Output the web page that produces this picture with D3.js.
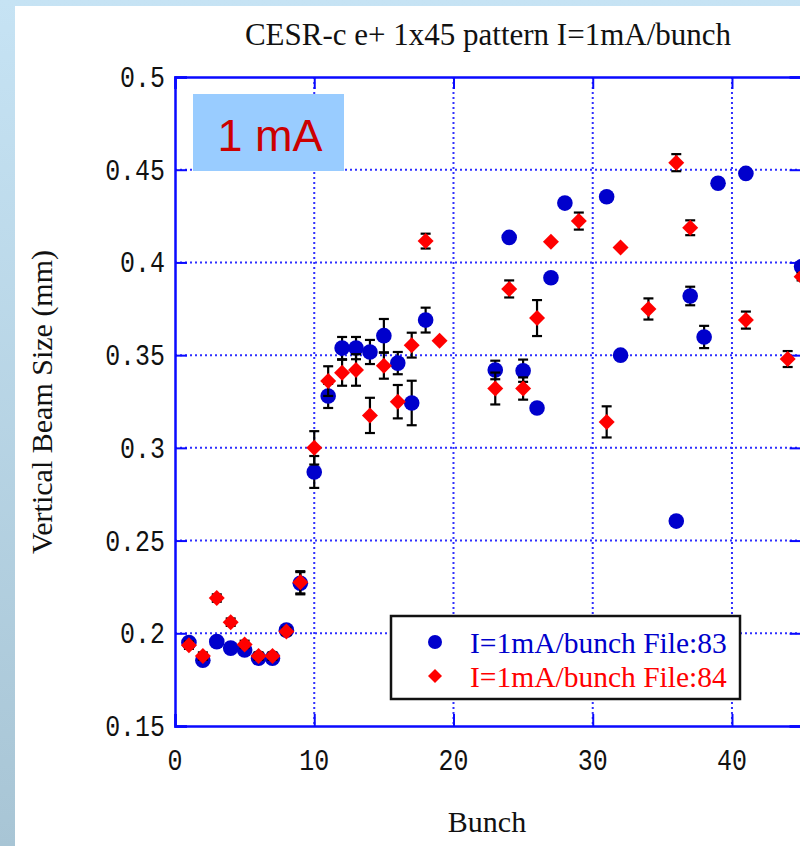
<!DOCTYPE html>
<html>
<head>
<meta charset="utf-8">
<script src="https://cdn.jsdelivr.net/npm/d3@7/dist/d3.min.js"></script>
<style>
  html, body { margin: 0; padding: 0; background: #ffffff; }
  svg { display: block; }
</style>
</head>
<body>
<div id="chart"></div>
<script>
// Bunch numbers and measured vertical beam sizes (mm), with error half-widths
const bunch83 = [1,2,3,4,5,6,7,8,9,10,11,12,13,14,15,16,17,18,23,24,25,26,27,28,31,32,36,37,38,39,41,45];
const size83  = [0.195,0.1855,0.1955,0.192,0.191,0.1866,0.1866,0.2017,0.227,0.287,0.328,0.3538,0.3538,0.3517,0.3605,0.3457,0.3242,0.3689,0.342,0.4135,0.3416,0.3215,0.3917,0.432,0.4354,0.350,0.2605,0.3819,0.3598,0.4427,0.448,0.3977];
const err83   = [0.002,0.002,0.002,0.002,0.002,0.002,0.002,0.002,0.006,0.0086,0.0065,0.006,0.006,0.0065,0.009,0.006,0.012,0.0067,0.005,0.002,0.006,0.002,0.002,0.002,0.002,0.002,0.002,0.005,0.006,0.002,0.002,0.002];

const bunch84 = [1,2,3,4,5,6,7,8,9,10,11,12,13,14,15,16,17,18,19,23,24,25,26,27,29,31,32,34,36,37,41,44,45];
const size84  = [0.1936,0.1877,0.219,0.206,0.194,0.1877,0.1877,0.201,0.2275,0.300,0.336,0.3405,0.342,0.3175,0.3443,0.3249,0.3554,0.4115,0.3578,0.332,0.3857,0.332,0.370,0.4112,0.4223,0.314,0.408,0.3749,0.4538,0.4187,0.3689,0.3479,0.3923];
const err84   = [0.002,0.002,0.002,0.002,0.002,0.002,0.002,0.002,0.006,0.009,0.008,0.007,0.0085,0.0095,0.007,0.009,0.0067,0.004,0,0.0086,0.0046,0.006,0.0097,0,0.0046,0.0084,0,0.0057,0.0046,0.004,0.0046,0.0043,0.002];

const xTicks = [0,10,20,30,40];
const yTicks = [0.15,0.2,0.25,0.3,0.35,0.4,0.45,0.5];
const xGrid = [10,20,30,40];
const yGrid = [0.2,0.25,0.3,0.35,0.4,0.45];

const titleText = "CESR-c e+ 1x45 pattern I=1mA/bunch";
const xLabel = "Bunch";
const yLabel = "Vertical Beam Size (mm)";
const legendLabels = ["I=1mA/bunch File:83", "I=1mA/bunch File:84"];
const badgeText = "1 mA";

const W = 800, H = 846;
const plot = {left: 175, right: 801.6, top: 77, bottom: 726};

const x = d3.scaleLinear().domain([0, 45]).range([plot.left, plot.right]);
const y = d3.scaleLinear().domain([0.15, 0.5]).range([plot.bottom, plot.top]);

const svg = d3.select("#chart").append("svg").attr("width", W).attr("height", H);

// slide background
const defs = svg.append("defs");
const grad = defs.append("linearGradient").attr("id", "bg").attr("x1", 0).attr("y1", 0).attr("x2", 0).attr("y2", 1);
grad.append("stop").attr("offset", 0).attr("stop-color", "#c6e3f4");
grad.append("stop").attr("offset", 1).attr("stop-color", "#a8c5d5");
svg.append("rect").attr("width", W).attr("height", H).attr("fill", "url(#bg)");
svg.append("rect").attr("x", 15).attr("y", 6).attr("width", W - 15).attr("height", H - 6).attr("fill", "#ffffff");

const serif = "'Liberation Serif', 'Times New Roman', serif";
const mono = "'Liberation Mono', 'DejaVu Sans Mono', monospace";
const axisBlue = "#0a0aff";

// dotted grid
const grid = svg.append("g").attr("stroke", "#2f2fff").attr("stroke-width", 2).attr("stroke-dasharray", "2,3");
grid.selectAll("line.gx").data(xGrid).join("line")
  .attr("x1", d => x(d)).attr("x2", d => x(d)).attr("y1", plot.top).attr("y2", plot.bottom);
grid.selectAll("line.gy").data(yGrid).join("line")
  .attr("x1", plot.left).attr("x2", plot.right).attr("y1", d => y(d)).attr("y2", d => y(d));

// axes drawn with d3 axis generators, inward ticks
const tickLen = 12;
const axes = svg.append("g");
axes.append("g").attr("transform", `translate(0,${plot.bottom})`)
  .call(d3.axisTop(x).tickValues(xTicks).tickSize(tickLen).tickFormat(""));
axes.append("g").attr("transform", `translate(0,${plot.top})`)
  .call(d3.axisBottom(x).tickValues(xTicks).tickSize(tickLen).tickFormat(""));
axes.append("g").attr("transform", `translate(${plot.left},0)`)
  .call(d3.axisRight(y).tickValues(yTicks).tickSize(tickLen).tickFormat(""));
axes.append("g").attr("transform", `translate(${plot.right},0)`)
  .call(d3.axisLeft(y).tickValues(yTicks).tickSize(tickLen).tickFormat(""));
axes.selectAll(".domain").attr("stroke", axisBlue).attr("stroke-width", 2.5);
axes.selectAll(".tick line").attr("stroke", axisBlue).attr("stroke-width", 2);

// tick labels
svg.append("g").selectAll("text").data(xTicks).join("text")
  .attr("transform", d => `translate(${x(d)},770) scale(0.86,1)`)
  .attr("text-anchor", "middle")
  .attr("font-family", mono).attr("font-size", 29).attr("fill", "#111")
  .text(d => d);
svg.append("g").selectAll("text").data(yTicks).join("text")
  .attr("transform", d => `translate(165,${y(d) + 10}) scale(0.86,1)`)
  .attr("text-anchor", "end")
  .attr("font-family", mono).attr("font-size", 29).attr("fill", "#111")
  .text(d => d3.format("")(d));

// titles
svg.append("text").attr("x", 488).attr("y", 45).attr("text-anchor", "middle")
  .attr("font-family", serif).attr("font-size", 31).attr("fill", "#111").text(titleText);
svg.append("text").attr("x", 487).attr("y", 832).attr("text-anchor", "middle")
  .attr("font-family", serif).attr("font-size", 30).attr("fill", "#111").text(xLabel);
svg.append("text").attr("transform", "translate(52,402) rotate(-90)").attr("text-anchor", "middle")
  .attr("font-family", serif).attr("font-size", 30).attr("fill", "#111").text(yLabel);

// series drawing helpers
function drawErrors(g, xs, ys, es) {
  const pts = xs.map((b, i) => ({b, v: ys[i], e: es[i]})).filter(d => d.e > 0);
  const eg = g.append("g").attr("stroke", "#000").attr("stroke-width", 2.2);
  eg.selectAll("line.v").data(pts).join("line")
    .attr("x1", d => x(d.b)).attr("x2", d => x(d.b))
    .attr("y1", d => y(d.v - d.e)).attr("y2", d => y(d.v + d.e));
  eg.selectAll("line.t").data(pts).join("line")
    .attr("x1", d => x(d.b) - 5).attr("x2", d => x(d.b) + 5)
    .attr("y1", d => y(d.v + d.e)).attr("y2", d => y(d.v + d.e));
  eg.selectAll("line.bm").data(pts).join("line")
    .attr("x1", d => x(d.b) - 5).attr("x2", d => x(d.b) + 5)
    .attr("y1", d => y(d.v - d.e)).attr("y2", d => y(d.v - d.e));
}
function diamondPath(cx, cy, r) {
  return `M${cx},${cy - r}L${cx + r},${cy}L${cx},${cy + r}L${cx - r},${cy}Z`;
}

const marks = svg.append("g");
// File 83: blue circles
const g83 = marks.append("g");
drawErrors(g83, bunch83, size83, err83);
g83.append("g").selectAll("circle").data(bunch83).join("circle")
  .attr("cx", d => x(d)).attr("cy", (d, i) => y(size83[i])).attr("r", 7.8)
  .attr("fill", "#0000cc");
// File 84: red diamonds
const g84 = marks.append("g");
drawErrors(g84, bunch84, size84, err84);
g84.append("g").selectAll("path").data(bunch84).join("path")
  .attr("d", (d, i) => diamondPath(x(d), y(size84[i]), 8))
  .attr("fill", "#ff0000");

// legend
const lg = svg.append("g");
lg.append("rect").attr("x", 391).attr("y", 616).attr("width", 349).attr("height", 83)
  .attr("fill", "#ffffff").attr("stroke", "#111").attr("stroke-width", 2.5);
lg.append("circle").attr("cx", 435).attr("cy", 642).attr("r", 7).attr("fill", "#0000cc");
lg.append("path").attr("d", diamondPath(435, 676, 7)).attr("fill", "#ff0000");
lg.append("text").attr("x", 470).attr("y", 653).attr("font-family", serif).attr("font-size", 29.5)
  .attr("fill", "#0000cc").text(legendLabels[0]);
lg.append("text").attr("x", 470).attr("y", 687).attr("font-family", serif).attr("font-size", 29.5)
  .attr("fill", "#ff0000").text(legendLabels[1]);

// current badge
const badge = svg.append("g");
badge.append("rect").attr("x", 193).attr("y", 94).attr("width", 151).attr("height", 77).attr("fill", "#99ccff");
badge.append("text").attr("x", 270).attr("y", 151).attr("text-anchor", "middle")
  .attr("font-family", "'Liberation Sans', Arial, sans-serif").attr("font-size", 45)
  .attr("fill", "#cc0000").text(badgeText);
</script>
</body>
</html>
